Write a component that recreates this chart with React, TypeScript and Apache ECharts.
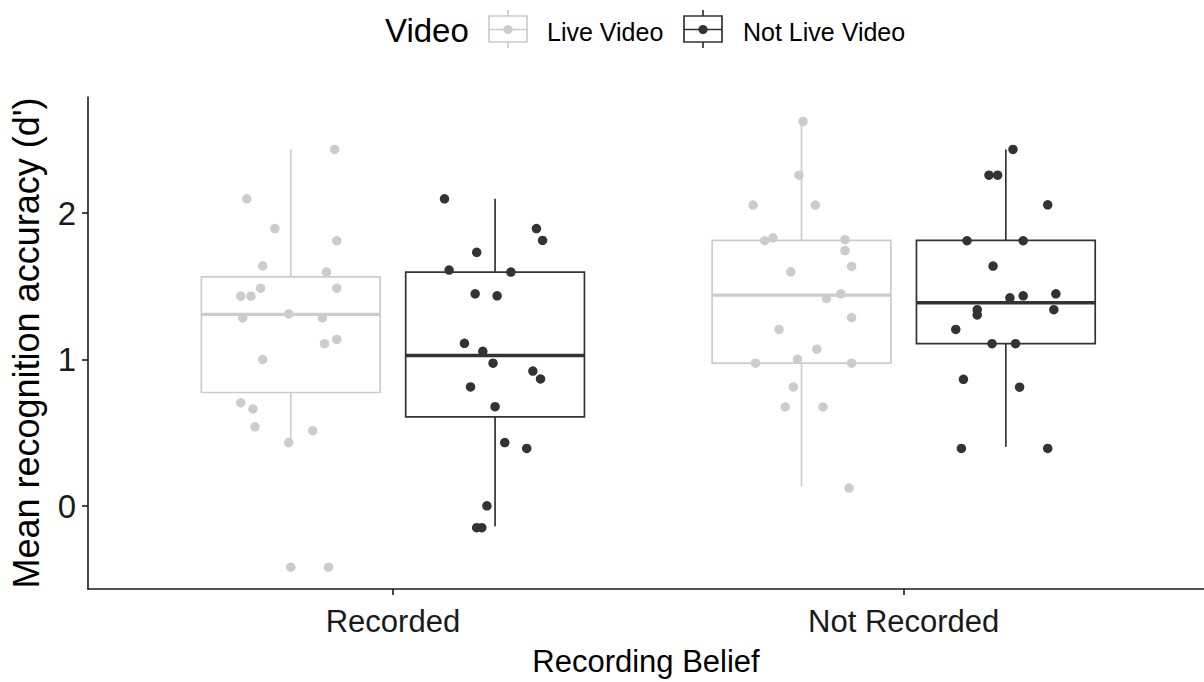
import React, { useEffect, useRef } from "react";
import * as echarts from "echarts";

// ---- data ----
const categories = ["Recorded", "Not Recorded"];
const groupNames = ["Live Video", "Not Live Video"];
const groupColors = ["#cccccc", "#333333"];
const yTicks = [0, 1, 2];
const xTicks = [1, 2];

// five-number summaries: [lower whisker, Q1, median, Q3, upper whisker], one per category
const liveBox = [
  [0.434, 0.776, 1.309, 1.565, 2.434],
  [0.135, 0.976, 1.44, 1.813, 2.625],
];
const notLiveBox = [
  [-0.137, 0.61, 1.028, 1.597, 2.097],
  [0.405, 1.109, 1.388, 1.813, 2.434],
];

// jittered points: values and horizontal jitter (in category units)
const liveRecordedY = [2.434, 2.097, 1.894, 1.811, 1.64, 1.597, 1.487, 1.487, 1.433, 1.433, 1.285, 1.312, 1.285, 1.138, 1.109, 1.001, 0.706, 0.664, 0.542, 0.515, 0.434, -0.416, -0.416];
const liveRecordedJitter = [0.086, -0.086, -0.031, 0.09, -0.055, 0.07, -0.059, 0.09, -0.098, -0.078, -0.094, -0.004, 0.062, 0.09, 0.066, -0.055, -0.098, -0.074, -0.07, 0.043, -0.004, 0.0, 0.074];

const notLiveRecordedY = [2.097, 1.894, 1.813, 1.732, 1.611, 1.597, 1.449, 1.435, 1.111, 1.057, 0.976, 0.922, 0.868, 0.814, 0.679, 0.434, 0.394, 0.003, -0.146, -0.146];
const notLiveRecordedJitter = [-0.099, 0.081, 0.093, -0.036, -0.09, 0.031, -0.039, 0.004, -0.06, -0.024, -0.004, 0.074, 0.089, -0.048, 0.0, 0.019, 0.062, -0.016, -0.036, -0.026];

const liveNotRecordedY = [2.625, 2.258, 2.054, 2.054, 1.811, 1.831, 1.818, 1.744, 1.636, 1.599, 1.449, 1.417, 1.287, 1.206, 1.071, 0.976, 1.003, 0.976, 0.814, 0.677, 0.677, 0.124];
const liveNotRecordedJitter = [0.003, -0.005, -0.095, 0.027, -0.072, -0.056, 0.085, 0.085, 0.098, -0.021, 0.077, 0.049, 0.098, -0.044, 0.03, -0.09, -0.008, 0.098, -0.016, -0.032, 0.042, 0.093];

const notLiveNotRecordedY = [2.434, 2.258, 2.258, 2.056, 1.811, 1.811, 1.638, 1.422, 1.435, 1.449, 1.341, 1.305, 1.341, 1.206, 1.109, 1.109, 0.866, 0.812, 0.394, 0.394];
const notLiveNotRecordedJitter = [0.014, -0.033, -0.016, 0.082, -0.076, 0.034, -0.025, 0.008, 0.034, 0.098, -0.056, -0.056, 0.094, -0.098, -0.027, 0.019, -0.083, 0.027, -0.087, 0.082];

const DODGE = 0.2;
const BOX_W = 0.35;
const FONT = "'Liberation Sans', Arial, sans-serif";

function boxData(stats: number[][], offset: number) {
  return stats.map((s, i) => [i + 1 + offset, ...s]);
}
function pointData(ys: number[], jit: number[], cat: number, offset: number) {
  return ys.map((y, i) => [cat + offset + jit[i], y]);
}

function makeBoxSeries(name: string, stats: number[][], offset: number, color: string) {
  return {
    type: "custom",
    name,
    z: 2,
    encode: { x: 0, y: [1, 2, 3, 4, 5] },
    data: boxData(stats, offset),
    renderItem: (params: any, api: any) => {
      const x = api.value(0);
      const lo = api.value(1), q1 = api.value(2), med = api.value(3), q3 = api.value(4), hi = api.value(5);
      const pTL = api.coord([x - BOX_W / 2, q3]);
      const pBR = api.coord([x + BOX_W / 2, q1]);
      const pMed = api.coord([x, med]);
      const yHi = api.coord([x, hi])[1];
      const yLo = api.coord([x, lo])[1];
      const xc = pMed[0];
      const lw = 1.7;
      return {
        type: "group",
        children: [
          { type: "line", shape: { x1: xc, y1: yHi, x2: xc, y2: pTL[1] }, style: { stroke: color, lineWidth: lw } },
          { type: "line", shape: { x1: xc, y1: pBR[1], x2: xc, y2: yLo }, style: { stroke: color, lineWidth: lw } },
          {
            type: "rect",
            shape: { x: pTL[0], y: pTL[1], width: pBR[0] - pTL[0], height: pBR[1] - pTL[1] },
            style: { fill: "#ffffff", stroke: color, lineWidth: lw },
          },
          { type: "line", shape: { x1: pTL[0], y1: pMed[1], x2: pBR[0], y2: pMed[1] }, style: { stroke: color, lineWidth: 3.4 } },
        ],
      };
    },
  };
}

function legendKey(x: number, color: string) {
  const w = 38;
  const cx = x + w / 2;
  return [
    { type: "line", shape: { x1: cx, y1: 10, x2: cx, y2: 48 }, style: { stroke: color, lineWidth: 1.7 } },
    { type: "rect", shape: { x, y: 16, width: w, height: 26 }, style: { fill: "#ffffff", stroke: color, lineWidth: 1.7 } },
    { type: "line", shape: { x1: x, y1: 29.5, x2: x + w, y2: 29.5 }, style: { stroke: color, lineWidth: 1.7 } },
    { type: "circle", shape: { cx, cy: 29.5, r: 4.6 }, style: { fill: color } },
  ];
}

export default function App() {
  const ref = useRef<HTMLDivElement>(null);
  useEffect(() => {
    if (!ref.current) return;
    const chart = echarts.init(ref.current, null, { renderer: "svg" });
    const option: any = {
      animation: false,
      backgroundColor: "#ffffff",
      textStyle: { fontFamily: FONT },
      grid: { left: 85, right: 0, top: 97, bottom: 88, containLabel: false },
      xAxis: {
        type: "value",
        min: 0.403,
        max: 2.588,
        name: "Recording Belief",
        nameLocation: "middle",
        nameGap: 57,
        nameTextStyle: { fontSize: 31, color: "#000000", fontFamily: FONT },
        splitLine: { show: false },
        axisLine: { show: true, onZero: false, lineStyle: { color: "#1a1a1a", width: 1.6 } },
        axisTick: { show: true, length: 6, customValues: xTicks, lineStyle: { color: "#1a1a1a", width: 1.6 } },
        axisLabel: {
          customValues: xTicks,
          margin: 17,
          fontSize: 31,
          color: "#1a1a1a",
          fontFamily: FONT,
          formatter: (v: number) => categories[Math.round(v) - 1] ?? "",
        },
      },
      yAxis: {
        type: "value",
        min: -0.5645,
        max: 2.7915,
        name: "Mean recognition accuracy (d')",
        nameLocation: "middle",
        nameGap: 44,
        nameTextStyle: { fontSize: 36, color: "#000000", fontFamily: FONT },
        splitLine: { show: false },
        axisLine: { show: true, onZero: false, lineStyle: { color: "#1a1a1a", width: 1.6 } },
        axisTick: { show: true, length: 6, customValues: yTicks, lineStyle: { color: "#1a1a1a", width: 1.6 } },
        axisLabel: { customValues: yTicks, margin: 12, fontSize: 33, color: "#1a1a1a", fontFamily: FONT },
      },
      graphic: [
        { type: "text", x: 385, y: 30, style: { text: "Video", fontSize: 33, fontFamily: FONT, fill: "#000000", align: "left", verticalAlign: "middle" } },
        ...legendKey(489, groupColors[0]),
        { type: "text", x: 547, y: 31.5, style: { text: groupNames[0], fontSize: 25, fontFamily: FONT, fill: "#000000", align: "left", verticalAlign: "middle" } },
        ...legendKey(684, groupColors[1]),
        { type: "text", x: 743, y: 31.5, style: { text: groupNames[1], fontSize: 25, fontFamily: FONT, fill: "#000000", align: "left", verticalAlign: "middle" } },
      ],
      series: [
        makeBoxSeries(groupNames[0], liveBox, -DODGE, groupColors[0]),
        makeBoxSeries(groupNames[1], notLiveBox, DODGE, groupColors[1]),
        {
          type: "scatter",
          name: groupNames[0],
          z: 3,
          symbol: "circle",
          symbolSize: 9.5,
          itemStyle: { color: groupColors[0], opacity: 1 },
          data: [
            ...pointData(liveRecordedY, liveRecordedJitter, 1, -DODGE),
            ...pointData(liveNotRecordedY, liveNotRecordedJitter, 2, -DODGE),
          ],
        },
        {
          type: "scatter",
          name: groupNames[1],
          z: 3,
          symbol: "circle",
          symbolSize: 9.5,
          itemStyle: { color: groupColors[1], opacity: 1 },
          data: [
            ...pointData(notLiveRecordedY, notLiveRecordedJitter, 1, DODGE),
            ...pointData(notLiveNotRecordedY, notLiveNotRecordedJitter, 2, DODGE),
          ],
        },
      ],
    };
    chart.setOption(option);
    return () => chart.dispose();
  }, []);
  return (
    <div
      ref={ref}
      style={{ position: "absolute", left: 0, top: 0, width: 1204, height: 682, background: "#ffffff" }}
    />
  );
}
